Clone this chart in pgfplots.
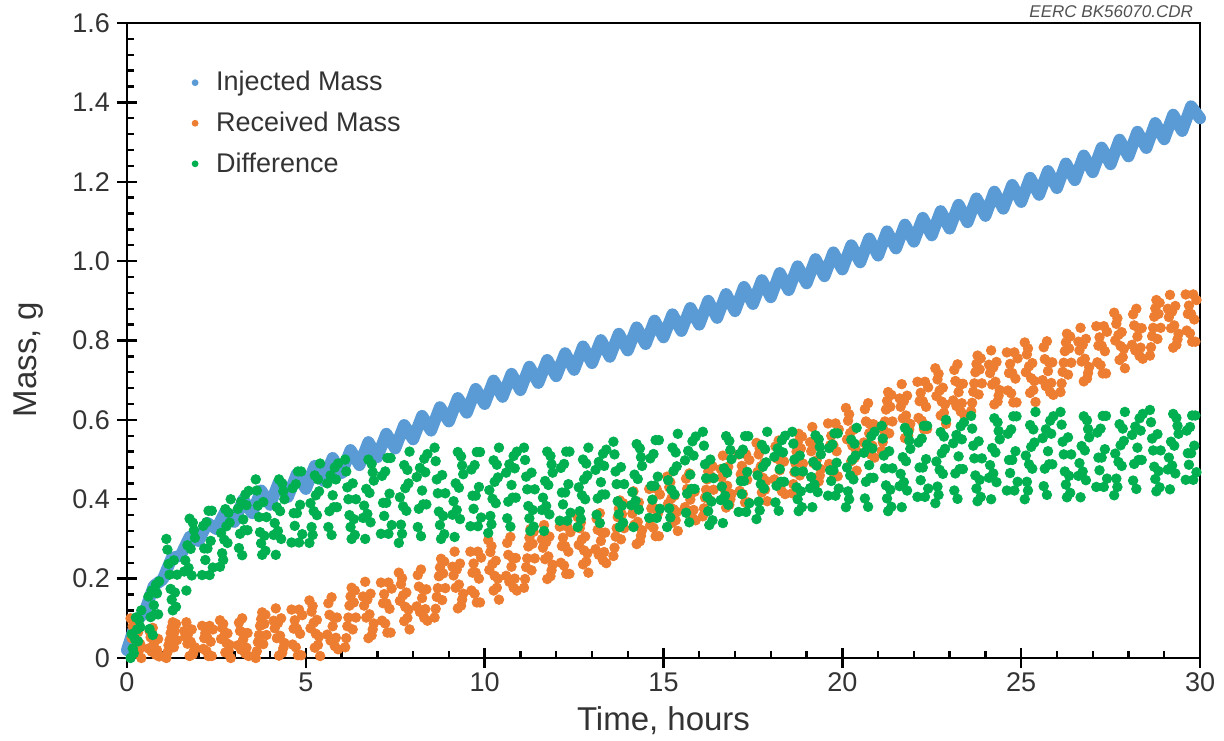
\documentclass[border=0pt]{standalone}
\usepackage{fontspec}
\setmainfont{Liberation Sans}
\usepackage{pgfplots}
\usepackage{pgfplotstable}
\pgfplotsset{compat=1.18}
\definecolor{cinj}{RGB}{91,155,213}
\definecolor{crec}{RGB}{237,125,49}
\definecolor{cdif}{RGB}{0,176,80}
\definecolor{ctext}{RGB}{51,51,51}

\pgfplotstableread[row sep=\\]{
t o g\\
0.10 0.100 0.000\\ 0.16 0.080 0.024\\ 0.22 0.060 0.048\\ 0.28 0.040 0.072\\ 0.34 0.020 0.096\\ 0.40 0.000 0.120\\
0.60 0.024 0.155\\ 0.66 0.052 0.103\\ 0.72 0.076 0.058\\ 0.78 0.048 0.110\\ 0.84 0.020 0.163\\ 0.90 0.004 0.193\\
1.10 0.000 0.300\\ 1.16 0.032 0.237\\ 1.22 0.063 0.174\\ 1.28 0.090 0.120\\ 1.34 0.068 0.165\\ 1.40 0.045 0.210\\
1.60 0.068 0.218\\ 1.66 0.090 0.170\\ 1.72 0.063 0.227\\ 1.78 0.041 0.275\\ 1.84 0.009 0.341\\ 1.90 0.027 0.303\\
2.10 0.081 0.209\\ 2.16 0.050 0.276\\ 2.22 0.018 0.342\\ 2.28 0.005 0.371\\ 2.34 0.041 0.295\\ 2.40 0.072 0.228\\
2.60 0.095 0.230\\ 2.66 0.076 0.264\\ 2.72 0.057 0.298\\ 2.78 0.038 0.332\\ 2.84 0.019 0.366\\ 2.90 0.000 0.400\\
3.10 0.032 0.376\\ 3.16 0.068 0.313\\ 3.22 0.100 0.259\\ 3.28 0.063 0.322\\ 3.34 0.026 0.385\\ 3.40 0.005 0.421\\
3.60 0.000 0.450\\ 3.66 0.040 0.384\\ 3.72 0.081 0.317\\ 3.78 0.115 0.260\\ 3.84 0.086 0.308\\ 3.90 0.058 0.355\\
4.10 0.094 0.310\\ 4.16 0.125 0.260\\ 4.22 0.088 0.320\\ 4.28 0.056 0.370\\ 4.34 0.013 0.440\\ 4.40 0.038 0.400\\
4.60 0.122 0.291\\ 4.66 0.074 0.365\\ 4.72 0.027 0.438\\ 4.78 0.007 0.470\\ 4.84 0.061 0.386\\ 4.90 0.108 0.312\\
5.10 0.145 0.290\\ 5.16 0.117 0.330\\ 5.22 0.089 0.370\\ 5.28 0.061 0.410\\ 5.34 0.033 0.450\\ 5.40 0.005 0.490\\
5.60 0.059 0.440\\ 5.66 0.109 0.370\\ 5.72 0.153 0.310\\ 5.78 0.102 0.380\\ 5.84 0.051 0.450\\ 5.90 0.022 0.490\\
6.10 0.027 0.500\\ 6.16 0.080 0.430\\ 6.22 0.132 0.360\\ 6.28 0.177 0.300\\ 6.34 0.140 0.350\\ 6.40 0.102 0.400\\
6.60 0.155 0.353\\ 6.66 0.192 0.300\\ 6.72 0.147 0.363\\ 6.78 0.110 0.416\\ 6.84 0.057 0.489\\ 6.90 0.087 0.447\\
7.10 0.190 0.313\\ 7.16 0.138 0.391\\ 7.22 0.087 0.470\\ 7.28 0.064 0.504\\ 7.34 0.124 0.414\\ 7.40 0.175 0.335\\
7.60 0.215 0.290\\ 7.66 0.186 0.336\\ 7.72 0.158 0.382\\ 7.78 0.129 0.428\\ 7.84 0.101 0.474\\ 7.90 0.072 0.520\\
8.10 0.130 0.456\\ 8.16 0.180 0.376\\ 8.22 0.223 0.307\\ 8.28 0.173 0.387\\ 8.34 0.123 0.468\\ 8.40 0.094 0.514\\
8.60 0.102 0.530\\ 8.66 0.154 0.450\\ 8.72 0.206 0.369\\ 8.78 0.250 0.300\\ 8.84 0.213 0.358\\ 8.90 0.176 0.415\\
9.10 0.230 0.361\\ 9.16 0.268 0.305\\ 9.22 0.223 0.373\\ 9.28 0.185 0.429\\ 9.34 0.132 0.508\\ 9.40 0.162 0.463\\
9.60 0.268 0.332\\ 9.66 0.215 0.409\\ 9.72 0.162 0.486\\ 9.78 0.140 0.519\\ 9.84 0.200 0.431\\ 9.90 0.253 0.354\\
10.10 0.297 0.315\\ 10.16 0.267 0.358\\ 10.22 0.237 0.401\\ 10.28 0.207 0.444\\ 10.34 0.177 0.487\\ 10.40 0.147 0.530\\
10.60 0.207 0.467\\ 10.66 0.260 0.394\\ 10.72 0.305 0.331\\ 10.78 0.252 0.404\\ 10.84 0.200 0.478\\ 10.90 0.170 0.520\\
11.10 0.177 0.530\\ 11.16 0.229 0.457\\ 11.22 0.281 0.383\\ 11.28 0.325 0.320\\ 11.34 0.288 0.373\\ 11.40 0.251 0.425\\
11.60 0.299 0.373\\ 11.66 0.335 0.320\\ 11.72 0.292 0.383\\ 11.78 0.256 0.436\\ 11.84 0.206 0.509\\ 11.90 0.235 0.467\\
12.10 0.331 0.346\\ 12.16 0.282 0.417\\ 12.22 0.233 0.489\\ 12.28 0.212 0.520\\ 12.34 0.268 0.438\\ 12.40 0.317 0.366\\
12.60 0.355 0.330\\ 12.66 0.327 0.370\\ 12.72 0.299 0.410\\ 12.78 0.271 0.450\\ 12.84 0.243 0.490\\ 12.90 0.215 0.530\\
13.10 0.274 0.474\\ 13.16 0.323 0.402\\ 13.22 0.365 0.340\\ 13.28 0.316 0.412\\ 13.34 0.267 0.484\\ 13.40 0.239 0.525\\
13.60 0.257 0.545\\ 13.66 0.306 0.470\\ 13.72 0.355 0.395\\ 13.78 0.397 0.330\\ 13.84 0.362 0.384\\ 13.90 0.327 0.438\\
14.10 0.385 0.385\\ 14.16 0.420 0.330\\ 14.22 0.378 0.396\\ 14.28 0.343 0.451\\ 14.34 0.294 0.528\\ 14.40 0.322 0.484\\
14.60 0.426 0.353\\ 14.66 0.377 0.434\\ 14.72 0.328 0.514\\ 14.78 0.307 0.549\\ 14.84 0.363 0.457\\ 14.90 0.412 0.376\\
15.10 0.457 0.330\\ 15.16 0.430 0.377\\ 15.22 0.402 0.424\\ 15.28 0.375 0.471\\ 15.34 0.347 0.518\\ 15.40 0.320 0.565\\
15.60 0.380 0.498\\ 15.66 0.426 0.414\\ 15.72 0.465 0.342\\ 15.78 0.419 0.426\\ 15.84 0.373 0.510\\ 15.90 0.347 0.558\\
16.10 0.357 0.570\\ 16.16 0.404 0.488\\ 16.22 0.450 0.406\\ 16.28 0.490 0.335\\ 16.34 0.457 0.394\\ 16.40 0.424 0.453\\
16.60 0.476 0.398\\ 16.66 0.510 0.340\\ 16.72 0.469 0.409\\ 16.78 0.434 0.467\\ 16.84 0.386 0.547\\ 16.90 0.413 0.501\\
17.10 0.513 0.368\\ 17.16 0.463 0.446\\ 17.22 0.413 0.525\\ 17.28 0.392 0.559\\ 17.34 0.449 0.469\\ 17.40 0.499 0.390\\
17.60 0.542 0.350\\ 17.66 0.513 0.394\\ 17.72 0.483 0.438\\ 17.78 0.454 0.482\\ 17.84 0.424 0.526\\ 17.90 0.395 0.570\\
18.10 0.450 0.507\\ 18.16 0.503 0.434\\ 18.22 0.548 0.371\\ 18.28 0.495 0.444\\ 18.34 0.443 0.518\\ 18.40 0.413 0.560\\
18.60 0.415 0.570\\ 18.66 0.468 0.500\\ 18.72 0.520 0.430\\ 18.78 0.565 0.370\\ 18.84 0.528 0.420\\ 18.90 0.490 0.470\\
19.10 0.544 0.428\\ 19.16 0.582 0.380\\ 19.22 0.536 0.437\\ 19.28 0.498 0.485\\ 19.34 0.445 0.551\\ 19.40 0.476 0.513\\
19.60 0.591 0.409\\ 19.66 0.536 0.473\\ 19.72 0.481 0.538\\ 19.78 0.458 0.566\\ 19.84 0.521 0.492\\ 19.90 0.576 0.427\\
20.10 0.630 0.380\\ 20.16 0.598 0.420\\ 20.22 0.567 0.460\\ 20.28 0.535 0.500\\ 20.34 0.504 0.540\\ 20.40 0.472 0.580\\
20.60 0.543 0.517\\ 20.66 0.596 0.444\\ 20.72 0.642 0.381\\ 20.78 0.589 0.454\\ 20.84 0.535 0.528\\ 20.90 0.505 0.570\\
21.10 0.522 0.585\\ 21.16 0.574 0.510\\ 21.22 0.626 0.435\\ 21.28 0.670 0.370\\ 21.34 0.633 0.424\\ 21.40 0.596 0.478\\
21.60 0.654 0.433\\ 21.66 0.690 0.380\\ 21.72 0.647 0.443\\ 21.78 0.611 0.496\\ 21.84 0.561 0.569\\ 21.90 0.590 0.527\\
22.10 0.696 0.406\\ 22.16 0.647 0.480\\ 22.22 0.598 0.553\\ 22.28 0.577 0.585\\ 22.34 0.633 0.501\\ 22.40 0.682 0.427\\
22.60 0.730 0.390\\ 22.66 0.702 0.432\\ 22.72 0.674 0.474\\ 22.78 0.646 0.516\\ 22.84 0.618 0.558\\ 22.90 0.590 0.600\\
23.10 0.649 0.541\\ 23.16 0.698 0.465\\ 23.22 0.740 0.401\\ 23.28 0.691 0.476\\ 23.34 0.642 0.551\\ 23.40 0.614 0.594\\
23.60 0.622 0.610\\ 23.66 0.671 0.535\\ 23.72 0.720 0.460\\ 23.78 0.762 0.395\\ 23.84 0.727 0.449\\ 23.90 0.692 0.503\\
24.10 0.739 0.454\\ 24.16 0.775 0.400\\ 24.22 0.732 0.465\\ 24.28 0.696 0.518\\ 24.34 0.646 0.594\\ 24.40 0.675 0.551\\
24.60 0.770 0.422\\ 24.66 0.718 0.499\\ 24.72 0.667 0.576\\ 24.78 0.644 0.609\\ 24.84 0.704 0.521\\ 24.90 0.755 0.444\\
25.10 0.795 0.400\\ 25.16 0.765 0.444\\ 25.22 0.735 0.488\\ 25.28 0.705 0.532\\ 25.34 0.675 0.576\\ 25.40 0.645 0.620\\
25.60 0.700 0.554\\ 25.66 0.753 0.477\\ 25.72 0.798 0.411\\ 25.78 0.745 0.488\\ 25.84 0.693 0.565\\ 25.90 0.663 0.609\\
26.10 0.670 0.620\\ 26.16 0.721 0.545\\ 26.22 0.773 0.470\\ 26.28 0.817 0.405\\ 26.34 0.780 0.459\\ 26.40 0.744 0.513\\
26.60 0.797 0.459\\ 26.66 0.832 0.405\\ 26.72 0.789 0.470\\ 26.78 0.754 0.523\\ 26.84 0.704 0.599\\ 26.90 0.733 0.556\\
27.10 0.836 0.431\\ 27.16 0.787 0.505\\ 27.22 0.738 0.578\\ 27.28 0.717 0.610\\ 27.34 0.773 0.526\\ 27.40 0.822 0.452\\
27.60 0.870 0.410\\ 27.66 0.842 0.452\\ 27.72 0.814 0.494\\ 27.78 0.786 0.536\\ 27.84 0.758 0.578\\ 27.90 0.730 0.620\\
28.10 0.789 0.562\\ 28.16 0.838 0.489\\ 28.22 0.880 0.426\\ 28.28 0.831 0.499\\ 28.34 0.782 0.573\\ 28.40 0.754 0.615\\
28.60 0.762 0.625\\ 28.66 0.811 0.553\\ 28.72 0.860 0.482\\ 28.78 0.902 0.420\\ 28.84 0.867 0.471\\ 28.90 0.832 0.523\\
29.10 0.880 0.475\\ 29.16 0.915 0.425\\ 29.22 0.873 0.485\\ 29.28 0.838 0.535\\ 29.34 0.789 0.605\\ 29.40 0.817 0.565\\
29.60 0.916 0.449\\ 29.66 0.867 0.516\\ 29.72 0.818 0.582\\ 29.78 0.797 0.611\\ 29.84 0.853 0.535\\ 29.90 0.902 0.468\\
}\massdata

\pgfplotstableread[row sep=\\]{
t o g\\
0.13 0.050 0.060\\ 0.19 0.090 0.012\\ 0.25 0.015 0.102\\ 0.31 0.065 0.042\\ 0.37 0.035 0.078\\
0.63 0.068 0.073\\ 0.69 0.016 0.170\\ 0.75 0.036 0.133\\ 0.81 0.008 0.185\\ 0.87 0.048 0.110\\
1.13 0.014 0.273\\ 1.19 0.045 0.210\\ 1.25 0.077 0.147\\ 1.31 0.027 0.246\\ 1.37 0.086 0.129\\
1.63 0.054 0.246\\ 1.69 0.036 0.284\\ 1.75 0.005 0.351\\ 1.81 0.072 0.208\\ 1.87 0.018 0.322\\
2.13 0.023 0.333\\ 2.19 0.063 0.247\\ 2.25 0.050 0.276\\ 2.31 0.081 0.209\\ 2.37 0.005 0.371\\
2.63 0.048 0.315\\ 2.69 0.086 0.247\\ 2.75 0.014 0.375\\ 2.81 0.062 0.290\\ 2.87 0.033 0.341\\
3.13 0.089 0.277\\ 3.19 0.021 0.394\\ 3.25 0.047 0.349\\ 3.31 0.011 0.412\\ 3.37 0.063 0.322\\
3.63 0.017 0.422\\ 3.69 0.058 0.355\\ 3.75 0.098 0.289\\ 3.81 0.035 0.393\\ 3.87 0.109 0.270\\
4.13 0.075 0.340\\ 4.19 0.050 0.380\\ 4.25 0.006 0.450\\ 4.31 0.100 0.300\\ 4.37 0.025 0.420\\
4.63 0.034 0.428\\ 4.69 0.095 0.333\\ 4.75 0.074 0.365\\ 4.81 0.122 0.291\\ 4.87 0.007 0.470\\
5.13 0.075 0.390\\ 5.19 0.131 0.310\\ 5.25 0.026 0.460\\ 5.31 0.096 0.360\\ 5.37 0.054 0.420\\
5.63 0.138 0.330\\ 5.69 0.044 0.460\\ 5.75 0.080 0.410\\ 5.81 0.030 0.480\\ 5.87 0.102 0.380\\
6.13 0.050 0.470\\ 6.19 0.102 0.400\\ 6.25 0.155 0.330\\ 6.31 0.072 0.440\\ 6.37 0.170 0.310\\
6.63 0.132 0.384\\ 6.69 0.102 0.426\\ 6.75 0.050 0.500\\ 6.81 0.162 0.342\\ 6.87 0.072 0.468\\
7.13 0.094 0.459\\ 7.19 0.161 0.358\\ 7.25 0.138 0.391\\ 7.31 0.190 0.313\\ 7.37 0.064 0.504\\
7.63 0.144 0.405\\ 7.69 0.201 0.313\\ 7.75 0.093 0.486\\ 7.81 0.165 0.371\\ 7.87 0.122 0.440\\
8.13 0.209 0.330\\ 8.19 0.116 0.479\\ 8.25 0.151 0.422\\ 8.31 0.101 0.502\\ 8.37 0.173 0.387\\
8.63 0.124 0.496\\ 8.69 0.176 0.415\\ 8.75 0.228 0.335\\ 8.81 0.146 0.461\\ 8.87 0.243 0.312\\
9.13 0.208 0.395\\ 9.19 0.177 0.440\\ 9.25 0.125 0.519\\ 9.31 0.238 0.350\\ 9.37 0.147 0.485\\
9.63 0.170 0.475\\ 9.69 0.238 0.376\\ 9.75 0.215 0.409\\ 9.81 0.268 0.332\\ 9.87 0.140 0.519\\
10.13 0.222 0.423\\ 10.19 0.282 0.337\\ 10.25 0.170 0.498\\ 10.31 0.245 0.390\\ 10.37 0.200 0.455\\
10.63 0.290 0.352\\ 10.69 0.192 0.488\\ 10.75 0.230 0.436\\ 10.81 0.177 0.509\\ 10.87 0.252 0.404\\
11.13 0.199 0.499\\ 11.19 0.251 0.425\\ 11.25 0.303 0.352\\ 11.31 0.221 0.467\\ 11.37 0.318 0.331\\
11.63 0.278 0.404\\ 11.69 0.249 0.446\\ 11.75 0.199 0.520\\ 11.81 0.306 0.362\\ 11.87 0.221 0.488\\
12.13 0.240 0.479\\ 12.19 0.303 0.387\\ 12.25 0.282 0.417\\ 12.31 0.331 0.346\\ 12.37 0.212 0.520\\
12.63 0.285 0.430\\ 12.69 0.341 0.350\\ 12.75 0.236 0.500\\ 12.81 0.306 0.400\\ 12.87 0.264 0.460\\
13.13 0.351 0.361\\ 13.19 0.260 0.494\\ 13.25 0.295 0.443\\ 13.31 0.246 0.515\\ 13.37 0.316 0.412\\
13.63 0.278 0.513\\ 13.69 0.327 0.438\\ 13.75 0.376 0.362\\ 13.81 0.299 0.481\\ 13.87 0.390 0.341\\
14.13 0.364 0.418\\ 14.19 0.336 0.462\\ 14.25 0.287 0.539\\ 14.31 0.392 0.374\\ 14.37 0.308 0.506\\
14.63 0.335 0.503\\ 14.69 0.398 0.399\\ 14.75 0.377 0.434\\ 14.81 0.426 0.353\\ 14.87 0.307 0.549\\
15.13 0.389 0.448\\ 15.19 0.443 0.354\\ 15.25 0.341 0.530\\ 15.31 0.409 0.412\\ 15.37 0.368 0.483\\
15.63 0.452 0.366\\ 15.69 0.366 0.522\\ 15.75 0.399 0.462\\ 15.81 0.353 0.546\\ 15.87 0.419 0.426\\
16.13 0.377 0.535\\ 16.19 0.424 0.453\\ 16.25 0.470 0.370\\ 16.31 0.397 0.500\\ 16.37 0.483 0.347\\
16.63 0.455 0.432\\ 16.69 0.427 0.478\\ 16.75 0.379 0.559\\ 16.81 0.482 0.386\\ 16.87 0.400 0.524\\
17.13 0.421 0.514\\ 17.19 0.484 0.413\\ 17.25 0.463 0.446\\ 17.31 0.513 0.368\\ 17.37 0.392 0.559\\
17.63 0.469 0.460\\ 17.69 0.527 0.372\\ 17.75 0.417 0.537\\ 17.81 0.491 0.427\\ 17.87 0.446 0.493\\
18.13 0.533 0.392\\ 18.19 0.435 0.528\\ 18.25 0.473 0.476\\ 18.31 0.420 0.549\\ 18.37 0.495 0.444\\
18.63 0.438 0.540\\ 18.69 0.490 0.470\\ 18.75 0.543 0.400\\ 18.81 0.460 0.510\\ 18.87 0.558 0.380\\
19.13 0.521 0.456\\ 19.19 0.491 0.494\\ 19.25 0.438 0.561\\ 19.31 0.552 0.418\\ 19.37 0.460 0.532\\
19.63 0.489 0.529\\ 19.69 0.560 0.446\\ 19.75 0.536 0.473\\ 19.81 0.591 0.409\\ 19.87 0.458 0.566\\
20.13 0.551 0.480\\ 20.19 0.614 0.400\\ 20.25 0.496 0.550\\ 20.31 0.575 0.450\\ 20.37 0.527 0.510\\
20.63 0.627 0.402\\ 20.69 0.528 0.538\\ 20.75 0.566 0.486\\ 20.81 0.512 0.559\\ 20.87 0.589 0.454\\
21.13 0.544 0.553\\ 21.19 0.596 0.478\\ 21.25 0.648 0.402\\ 21.31 0.566 0.521\\ 21.37 0.663 0.381\\
21.63 0.633 0.464\\ 21.69 0.604 0.506\\ 21.75 0.554 0.580\\ 21.81 0.661 0.422\\ 21.87 0.576 0.548\\
22.13 0.605 0.543\\ 22.19 0.668 0.448\\ 22.25 0.647 0.480\\ 22.31 0.696 0.406\\ 22.37 0.577 0.585\\
22.63 0.660 0.495\\ 22.69 0.716 0.411\\ 22.75 0.611 0.569\\ 22.81 0.681 0.464\\ 22.87 0.639 0.527\\
23.13 0.726 0.422\\ 23.19 0.635 0.562\\ 23.25 0.670 0.508\\ 23.31 0.621 0.584\\ 23.37 0.691 0.476\\
23.63 0.643 0.578\\ 23.69 0.692 0.503\\ 23.75 0.741 0.427\\ 23.81 0.664 0.546\\ 23.87 0.755 0.406\\
24.13 0.718 0.486\\ 24.19 0.689 0.529\\ 24.25 0.639 0.604\\ 24.31 0.746 0.443\\ 24.37 0.661 0.572\\
24.63 0.674 0.565\\ 24.69 0.741 0.466\\ 24.75 0.718 0.499\\ 24.81 0.770 0.422\\ 24.87 0.644 0.609\\
25.13 0.720 0.510\\ 25.19 0.780 0.422\\ 25.25 0.668 0.587\\ 25.31 0.743 0.477\\ 25.37 0.698 0.543\\
25.63 0.783 0.433\\ 25.69 0.685 0.576\\ 25.75 0.723 0.521\\ 25.81 0.670 0.598\\ 25.87 0.745 0.488\\
26.13 0.692 0.588\\ 26.19 0.744 0.513\\ 26.25 0.795 0.437\\ 26.31 0.714 0.556\\ 26.37 0.810 0.416\\
26.63 0.775 0.491\\ 26.69 0.747 0.534\\ 26.75 0.697 0.609\\ 26.81 0.804 0.448\\ 26.87 0.718 0.577\\
27.13 0.745 0.568\\ 27.19 0.808 0.473\\ 27.25 0.787 0.505\\ 27.31 0.836 0.431\\ 27.37 0.717 0.610\\
27.63 0.800 0.515\\ 27.69 0.856 0.431\\ 27.75 0.751 0.589\\ 27.81 0.821 0.484\\ 27.87 0.779 0.547\\
28.13 0.866 0.447\\ 28.19 0.775 0.583\\ 28.25 0.810 0.530\\ 28.31 0.761 0.604\\ 28.37 0.831 0.499\\
28.63 0.783 0.594\\ 28.69 0.832 0.523\\ 28.75 0.881 0.451\\ 28.81 0.804 0.564\\ 28.87 0.895 0.430\\
29.13 0.859 0.505\\ 29.19 0.831 0.545\\ 29.25 0.782 0.615\\ 29.31 0.887 0.465\\ 29.37 0.803 0.585\\
29.63 0.825 0.573\\ 29.69 0.888 0.487\\ 29.75 0.867 0.516\\ 29.81 0.916 0.449\\ 29.87 0.797 0.611\\
}\massdataB

\begin{document}
\begin{tikzpicture}
\path[use as bounding box] (-63.5pt,-41pt) rectangle (548.5pt,329pt);
\begin{axis}[
  at={(0pt,0pt)}, anchor=south west,
  scale only axis, width=536.5pt, height=317.5pt,
  xmin=0, xmax=30, ymin=0, ymax=1.6,
  xtick={0,5,10,15,20,25,30},
  ytick={0,0.2,0.4,0.6,0.8,1.0,1.2,1.4,1.6},
  yticklabels={0,0.2,0.4,0.6,0.8,1.0,1.2,1.4,1.6},
  minor x tick num=4, minor y tick num=4,
  tick pos=left,
  tick align=inside,
  major tick length=5pt, minor tick length=3.5pt,
  extra x ticks={0,5,10,15,20,25,30}, extra x tick labels={},
  extra y ticks={0,0.2,0.4,0.6,0.8,1.0,1.2,1.4,1.6}, extra y tick labels={},
  extra tick style={tick align=outside, major tick length=5pt},
  axis line style={line width=1.3pt},
  every tick/.style={black, line width=1.2pt},
  /pgf/number format/assume math mode=true,
  tick label style={font=\fontsize{13.5}{16}\selectfont, text=ctext},
  xticklabel style={yshift=-4pt},
  yticklabel style={xshift=-5pt},
  xlabel={Time, hours}, ylabel={Mass, g},
  label style={font=\fontsize{16.5}{20}\selectfont, text=ctext},
  xlabel style={at={(axis description cs:0.5,-0.098)}, anchor=center},
  ylabel style={at={(axis description cs:-0.092,0.47)}, anchor=center},
  clip=false,
  legend style={draw=none, fill=none, at={(axis description cs:0.0416,0.937)}, anchor=north west,
    font=\fontsize{13.5}{16}\selectfont, text=ctext, row sep=5pt},
  legend cell align=left,
]
\addlegendimage{legend image code/.code={\path[draw=none,fill=none] (0cm,0cm) -- (0.6cm,0cm); \fill[cinj,draw=none] (0.3cm,0cm) circle (1.7pt);}}
\addlegendentry{Injected Mass}
\addlegendimage{legend image code/.code={\path[draw=none,fill=none] (0cm,0cm) -- (0.6cm,0cm); \fill[crec,draw=none] (0.3cm,0cm) circle (1.7pt);}}
\addlegendentry{Received Mass}
\addlegendimage{legend image code/.code={\path[draw=none,fill=none] (0cm,0cm) -- (0.6cm,0cm); \fill[cdif,draw=none] (0.3cm,0cm) circle (1.7pt);}}
\addlegendentry{Difference}

\addplot[forget plot, cinj, line width=6pt, line join=round, line cap=round] coordinates {
(0,0.02) (0.25,0.09) (0.5,0.118) (0.75,0.182) (1,0.198) (1.25,0.252) (1.5,0.258) (1.75,0.305)
(2,0.295) (2.25,0.34) (2.5,0.325) (2.75,0.369)
(3,0.343) (3.25,0.399) (3.5,0.365) (3.75,0.422) (4,0.386) (4.25,0.444) (4.5,0.406) (4.75,0.464)
(5,0.426) (5.25,0.484) (5.5,0.446) (5.75,0.504) (6,0.466) (6.25,0.524) (6.5,0.486) (6.75,0.544)
(7,0.506) (7.25,0.565) (7.5,0.528) (7.75,0.587) (8,0.551) (8.25,0.61) (8.5,0.573) (8.75,0.632)
(9,0.596) (9.25,0.655) (9.5,0.618) (9.75,0.678) (10,0.64) (10.25,0.699) (10.5,0.658) (10.75,0.716)
(11,0.675) (11.25,0.734) (11.5,0.693) (11.75,0.751) (12,0.71) (12.25,0.768) (12.5,0.726) (12.75,0.785)
(13,0.743) (13.25,0.801) (13.5,0.759) (13.75,0.817) (14,0.775) (14.25,0.833) (14.5,0.791) (14.75,0.85)
(15,0.808) (15.25,0.866) (15.5,0.824) (15.75,0.882) (16,0.84) (16.25,0.9) (16.5,0.857) (16.75,0.917)
(17,0.874) (17.25,0.935) (17.5,0.892) (17.75,0.952) (18,0.909) (18.25,0.97) (18.5,0.927) (18.75,0.987)
(19,0.944) (19.25,1.005) (19.5,0.962) (19.75,1.022) (20,0.979) (20.25,1.04) (20.5,0.997) (20.75,1.057)
(21,1.014) (21.25,1.075) (21.5,1.032) (21.75,1.092) (22,1.049) (22.25,1.109) (22.5,1.065) (22.75,1.126)
(23,1.082) (23.25,1.142) (23.5,1.098) (23.75,1.158) (24,1.114) (24.25,1.175) (24.5,1.132) (24.75,1.192)
(25,1.149) (25.25,1.21) (25.5,1.167) (25.75,1.227) (26,1.184) (26.25,1.246) (26.5,1.204) (26.75,1.266)
(27,1.224) (27.25,1.286) (27.5,1.244) (27.75,1.306) (28,1.264) (28.25,1.326) (28.5,1.285) (28.75,1.348)
(29,1.307) (29.25,1.369) (29.5,1.328) (29.75,1.39) (30,1.36)
};
\addplot[forget plot, only marks, mark=*, mark size=2.4pt, crec] table[x=t, y=o] {\massdata};
\addplot[forget plot, only marks, mark=*, mark size=2.4pt, crec] table[x=t, y=o] {\massdataB};
\addplot[forget plot, only marks, mark=*, mark size=2.4pt, cdif] table[x=t, y=g] {\massdata};
\addplot[forget plot, only marks, mark=*, mark size=2.4pt, cdif] table[x=t, y=g] {\massdataB};
\end{axis}
\node[anchor=base east, font=\fontsize{8.5}{10}\selectfont\itshape, text={rgb,255:red,80;green,80;blue,80}] at (536.5pt,320pt) {EERC BK56070.CDR};
\end{tikzpicture}
\end{document}
